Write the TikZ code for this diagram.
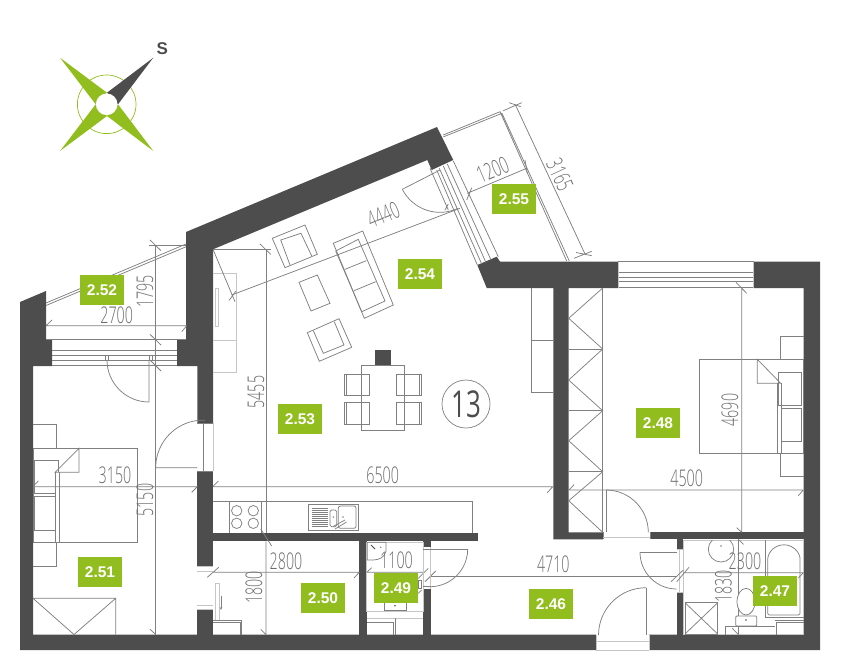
\documentclass[tikz,border=0pt]{standalone}
\usepackage{fontspec}
\usetikzlibrary{arrows.meta}
\setmainfont{Liberation Sans}
\newfontfamily\dimf[FakeStretch=0.62]{Open Sans Light}
\newfontfamily\numf[FakeStretch=0.7]{Open Sans}
\definecolor{wallc}{HTML}{4D4D4D}
\definecolor{lab}{HTML}{91BD1F}
\definecolor{lnc}{HTML}{808080}
\definecolor{lgt}{HTML}{C6C6C6}
\tikzset{
  wall/.style={fill=wallc,draw=none},
  ln/.style={draw=lnc,line width=0.75pt},
  lt/.style={draw=lgt,line width=0.75pt},
  roomtag/.style={fill=lab,text=white,minimum width=44pt,minimum height=30pt,inner sep=0pt,font=\fontsize{15.5}{15.5}\selectfont\bfseries},
  dimtxt/.style={text=lnc!85!black,inner sep=0pt,font=\fontsize{23}{23}\dimf},
}
\begin{document}
\begin{tikzpicture}[x=1pt,y=-1pt]
\useasboundingbox (0,0) rectangle (850,670);
% compass
\draw[lab,line width=0.7pt] (106.7,104.3) circle[radius=29.3];
\fill[lab] (60,57.7)--(107,92.7)--(95.7,104.3)--cycle;
\fill[lab] (60,151)--(107,116)--(95.7,104.3)--cycle;
\fill[lab] (153.3,151)--(107,116)--(118,104.3)--cycle;
\fill[wallc] (153.3,57.7)--(107,92.7)--(118,104.3)--cycle;
\fill[white] (106.7,104.3) circle[radius=10.8];
\node[text=wallc,inner sep=0pt,font=\fontsize{17}{17}\selectfont\bfseries] (south) at (162.3,48.3) {S};
% walls
\path[wall] (20,302)--(46,291)--(46,340)--(52,340)--(52,366)--(33,366)--(33,634.5)--(596,634.5)--(596,650)--(20,650)--cycle;
\path[wall] (649,634.5)--(803.5,634.5)--(803.5,288)--(753.5,288)--(753.5,261.5)--(820,261.5)--(820,650)--(649,650)--cycle;
\path[wall] (197.3,609.3) rectangle (213,635);
\path[wall] (197.3,471) rectangle (213,566.7);
\path[wall] (177,366)--(177,340)--(186,340)--(186,232)--(437,127)--(453.3,160)--(431.7,170)--(427.3,160)--(213,249.3)--(213,423)--(197.3,423)--(197.3,366)--cycle;
\path[wall] (213,532.7) rectangle (478,541.3);
\path[wall] (359,541) rectangle (366.7,635);
\path[wall] (423.3,541) rectangle (430.7,547);
\path[wall] (423.3,589.3) rectangle (430.7,635);
\path[wall] (477.3,265)--(496.7,256.7)--(500,261.5)--(618.3,261.5)--(618.3,288)--(568.7,288)--(568.7,532.3)--(603,532.3)--(603,539.3)--(553.3,539.3)--(553.3,288)--(486.7,288)--cycle;
\path[wall] (650,532.3) rectangle (803.5,539.3);
\path[wall] (676.7,539) rectangle (683.3,549);
\path[wall] (676.7,592.7) rectangle (683.3,635);
% balcony 2.52
\draw[ln] (46,303)--(186,244) (46,305.5)--(186,246.8);
% window left bedroom
\draw[ln] (46,339.5)--(186,339.5) (52,350)--(177,350) (52,355)--(177,355) (52,360)--(177,360) (52,365)--(177,365);
\draw[ln] (105,356)--(105,360) (149,356)--(149,360) (108,356)--(108,360) (152,356)--(152,360);
% dimension 2700 / 1795 / 5150
\draw[ln] (46,325.7)--(186,325.7) (46,325.7)--(52,320) (181.7,331.7)--(186.7,325.7);
\draw[ln] (149,245.3)--(186,245.3) (155.7,245.3)--(155.7,634.5);
\draw[ln] (150,240)--(161,250.7) (150,334.3)--(161,345) (150,360)--(161,371) (150,629.3)--(155.7,634.5);
% door bedroom left top
\draw[ln] (149,360)--(149,402) arc[start angle=90,end angle=180,radius=42];
% door to living
\draw[ln] (197.3,423)--(213,423) (197.3,471)--(213,471) (203.3,423)--(203.3,471);
\draw[lt] (213,423)--(213,471);
\draw[ln] (197.3,467.7)--(155.7,467.7) arc[start angle=180,end angle=272,radius=47.6];
% bedroom 2.51 furniture
\draw[ln] (33,424.7)--(56.7,424.7)--(56.7,448.3);
\draw[ln] (33,448.3) rectangle (137.7,542.3);
\draw[ln] (79,448.3)--(79,472.3)--(55,472.3)--cycle;
\draw[ln] (55,472.3)--(55,542.3) (59.3,472.3)--(59.3,542.3);
\draw[ln] (34.3,493.3)--(34.3,460.7)--(58.3,460.7)--(58.3,472);
\draw[ln] (34.3,493.3)--(55,493.3);
\draw[ln] (34.3,496.7) rectangle (55,530);
\draw[ln] (56.7,542.3)--(56.7,566)--(33,566);
\draw[ln] (33,598.3)--(115.7,598.3)--(115.7,634.5) (33,598.3)--(74,634.5)--(115.7,598.3);
% dims 3150, 6500, 4500
\draw[ln] (33,486.7)--(197.3,486.7) (33.3,486)--(38.3,481) (191.7,492.3)--(197.3,486.7);
\draw[ln] (213,486.7)--(553.3,486.7) (213.3,486)--(218.3,481) (547.3,492.7)--(552.7,486.7);
\draw[ln] (569,490)--(803.5,490) (569,490)--(574,484.7) (798.3,495.7)--(803.3,490);
% living left cabinet
\draw[lt] (213,273.3)--(236,273.3)--(236,372.3)--(213,372.3) (213,340)--(236,340);
\draw[lt] (215,288.3) rectangle (218.3,326.7);
% dim 5455
\draw[ln] (213,249.3)--(271,249.3) (266,249.3)--(266,532.7);
\draw[ln] (260,244)--(270.7,254.3) (260.7,529)--(271.7,546);
\draw[ln] (266,541.3)--(266,634.5) (260.7,629.3)--(266,634.5);
% dim 4440
\draw[ln] (231.7,295)--(460,208.3);
\draw[ln] (213.3,250)--(235,301.7) (229,300.5)--(236,291);
\draw[ln] (430,168.3)--(448.3,210) (445,210)--(448.3,204);
% balcony door
\draw[ln] (402.3,189.3)--(440,170);
\draw[ln] (402.3,189.3) arc[start angle=152.9,end angle=64.5,radius=42.3];
\draw[ln] (453.3,161)--(498.3,256.7) (447.3,164)--(491,260) (443.3,166)--(486,262.7) (439.3,168.3)--(481.7,264) (436.7,170)--(477.3,265);
% balcony 2.55
\draw[ln] (443.3,135)--(500,111.7)--(566.7,261) (443.3,136.9)--(502,113.3)--(569.3,261);
\draw[ln] (515,104)--(585,254) (503.3,110.7)--(521.7,102.7) (509.3,102.7)--(520.7,106.7) (574,258.3)--(591.7,251.3) (576,252.5)--(591.7,255.7);
\draw[ln] (467.3,193.3)--(526.7,168.3) (466.7,200)--(471.7,187.7) (525,160)--(527.3,173.3);
% furniture living
\draw[ln] (272.3,238.3)--(305,225)--(317.3,254.3)--(285,267.7)--cycle;
\draw[ln] (290,265)--(280.7,240)--(301,233.3)--(311.7,256);
\draw[ln] (333.3,243.3)--(362.7,231)--(393.3,305)--(364.3,318.3)--cycle;
\draw[ln] (361.7,311.7)--(335.7,251)--(358.3,239.3)--(385,301)--cycle;
\draw[ln] (345,269.3)--(366.3,260.7) (354,290.7)--(375.7,281.7);
\draw[ln] (299,282.3)--(317.3,275)--(330,303.3)--(311,311)--cycle;
\draw[ln] (307.3,332.7)--(339,318.7)--(351.7,347.3)--(319.3,361.3)--cycle;
\draw[ln] (313.3,330.7)--(323.3,353.3)--(344,345)--(334.3,321.7);
% dining
\draw[wall] (375,350) rectangle (391,365.7);
\draw[ln] (361.7,365.7) rectangle (404,430);
\foreach \yy/\zz in {374.3/395.7,402.7/424.3}{
  \draw[ln] (344.3,\yy) rectangle (369,\zz);
  \draw[ln] (396.7,\yy) rectangle (421.3,\zz);
  \draw[ln] (346.7,\yy)--(346.7,\zz) (419,\yy)--(419,\zz);
}
\node[circle,draw=lnc,line width=0.7pt,minimum size=48pt,inner sep=0pt,text=wallc,font=\fontsize{37}{37}\numf] (aptno) at (466,404) {13};
% right cabinets living
\draw[ln] (531.7,288)--(531.7,392.3)--(553.3,392.3) (531.7,340)--(553.3,340);
% kitchen
\draw[ln] (213,501.3)--(472.7,501.3)--(472.7,532.7);
\draw[ln] (229.3,501.3)--(229.3,532.7) (261,501.3)--(261,532.7);
\foreach \cx/\cy in {236.7/510.7,253.3/510.7,236.7/523.3,253.3/523.3}
  \draw[ln] (\cx,\cy) circle[radius=5.2];
\draw[ln] (308.3,504.3) rectangle (358.3,530.7);
\draw[ln,rounded corners=1.5pt] (330,510) rectangle (336.7,526.7);
\draw[ln,rounded corners=2pt] (338.3,506) rectangle (356,528.3);
\foreach \yy in {508,510,512,514,516,518,520,522,524,526}
  \draw[lnc,line width=0.6pt] (311.7,\yy)--(327.7,\yy);
\draw[ln] (333,526.5)--(345,520) (335,529)--(346.5,522);
\fill[lnc] (333.3,517) circle[radius=0.8] (343,517) circle[radius=0.8];
% wc 2.50 room
\draw[lt] (197.3,566.7)--(213,566.7) (197.3,571)--(213,571) (197.3,605.7)--(213,605.7) (197.3,609.3)--(213,609.3);
\draw[ln] (213,572.3)--(359,572.3) (207.3,577.3)--(218.7,567.3) (354,578)--(359.3,572.3);
\draw[lt] (215,583.3) rectangle (219,620);
\draw[lnc,line width=0.6pt,-{Stealth[length=3pt,width=2.5pt]}] (221,595.7)--(221,610);
\draw[ln] (213,620)--(241.7,620)--(241.7,634.5) (213,622.5)--(240,622.5)--(240,634.5);
% 2.49 room
\draw[lt] (366.7,542)--(423.3,542)--(423.3,611)--(366.7,611)--cycle;
\draw[ln] (367.3,542.3)--(386,542.3)--(386,551) .. controls (385,557) and (379,560) .. (373,560)--(367.3,560)--cycle;
\draw[wallc,line width=0.8pt] (371,545)--(375,549);
\fill[lnc] (380.7,547.3) circle[radius=0.8];
\draw[ln] (384,603.3)--(384,610.5)--(406,610.5)--(406,603.3);
\fill[wallc] (395,605.7) circle[radius=0.9];
\draw[lt] (366.7,618.3)--(423.3,618.3);
\draw[ln] (366.7,622.3)--(393.3,622.3)--(393.3,634.5) (395.7,618.3)--(395.7,634.5);
\draw[ln] (366.7,572.3)--(423.3,572.3) (367.3,571.7)--(371.7,567.7) (418.3,578.3)--(428.3,568.3) (425,581.7)--(435.7,571) (418.3,593.3)--(421.7,590);
\draw[ln] (418.3,580) rectangle (421.7,588);
% door 2.49
\draw[lt] (423.3,547)--(423.3,589.3) (430.7,547)--(430.7,589.3);
\draw[ln] (423.3,549)--(467.7,549);
\draw[ln] (467.7,549) arc[start angle=0,end angle=100,radius=37.7];
\draw[ln] (423.3,586.7)--(430.7,586.7);
% hall 4710
\draw[ln] (430.7,576)--(676.7,576);
\draw[ln] (646,587.7)--(646,634.5);
\draw[ln] (646,587.7) arc[start angle=270,end angle=180,radius=47.5];
\draw[lt] (596,634.5)--(596,650) (649,634.5)--(649,650);
\draw[lt] (596,641.7)--(649,641.7) (596,650)--(649,650);
% door to right bedroom
\draw[ln] (606,490)--(606,532.3) (603,532.3)--(603,539.3) (650,532.3)--(650,539.3);
\draw[lt] (603,537)--(650,537);
\draw[ln] (606,490) arc[start angle=-90,end angle=0,radius=42.3];
% wardrobe
\draw[ln] (602.7,288)--(602.7,532.3);
\draw[ln] (602.7,288)--(568.7,318.3)--(602.7,349)--(568.7,380)--(602.7,410.7)--(568.7,440.7)--(602.7,471.7)--(568.7,500.7)--(602.7,532.3);
\draw[ln] (568.7,349)--(602.7,349) (568.7,410.7)--(602.7,410.7) (568.7,471.7)--(602.7,471.7);
% window right
\draw[ln] (618.3,261.5)--(753.5,261.5) (618.3,272)--(753.5,272) (618.3,277)--(753.5,277) (618.3,281)--(753.5,281) (618.3,287)--(753.5,287);
\draw[lt] (618.3,261.5)--(618.3,288) (753.5,261.5)--(753.5,288);
% bedroom 2.48
\draw[ln] (741.7,288)--(741.7,532.3) (736,282.3)--(746.7,293.3) (736.7,527.7)--(741.7,532.3);
\draw[ln] (699,359.3) rectangle (803.5,453.3);
\draw[ln] (757.3,359.3)--(757.3,383.3)--(780.7,383.3)--cycle;
\draw[ln] (777.3,383.3)--(777.3,453.3) (781,383.3)--(781,453.3);
\draw[ln] (778.3,372) rectangle (801.7,405);
\draw[ln] (781.7,408.3) rectangle (801.7,441);
\draw[ln] (780,359.3)--(780,336)--(803.5,336);
\draw[ln] (780,453.3)--(780,476.7)--(803.5,476.7);
% bath frame
\draw[lt] (683.3,540) rectangle (803.5,634.5);
\draw[lt] (676.7,549)--(683.3,549) (676.7,592.7)--(683.3,592.7);
\draw[lt] (679.5,549)--(679.5,592.7);
\draw[ln] (640,552.3)--(676.7,552.3);
\draw[ln] (640,552.3) arc[start angle=180,end angle=90,radius=36.7];
\draw[ln] (683.3,572.7)--(803.5,572.7) (798.3,578)--(803.3,572.7);
\draw[ln] (671,581.7)--(683.3,570) (676.7,581.7)--(689,567.3);
\draw[ln] (738.4,540)--(738.4,634.5) (738.3,539.3)--(743.5,544.3) (732.3,628.3)--(738.3,634.5);
\begin{scope}
\clip (690,540) rectangle (750,570);
\draw[ln] (721,549.3) circle[radius=12.7];
\end{scope}
\fill[lnc] (721,546) circle[radius=0.9];
\draw[ln] (765.7,540)--(765.7,617.3)--(803.5,617.3);
\draw[ln,rounded corners=1.5pt] (767.7,615)--(767.7,561) arc[start angle=180,end angle=360,radius=16.2]--(800,615)--cycle;
\draw[ln] (685,602.7) rectangle (717.7,634);
\draw[ln] (685,602.7)--(717.7,634) (685,634)--(717.7,602.7);
\draw[ln,fill=white] (746,601.7) ellipse[x radius=9,y radius=13.3];
\draw[ln,fill=white,rounded corners=1pt] (735.7,616) rectangle (756.7,626);
\fill[wallc] (746,620) circle[radius=0.9];
\draw[ln] (725,634.5)--(725,626)--(775,626);
\draw[ln] (775,620)--(803.5,620) (776.7,622)--(776.7,634.5);
\draw[ln] (776.7,622)--(803.5,622);
% labels
\node[roomtag] (r52) at (102,290) {2.52};
\node[roomtag] (r55) at (514,199) {2.55};
\node[roomtag] (r54) at (420,274) {2.54};
\node[roomtag] (r53) at (300,419) {2.53};
\node[roomtag] (r51) at (100,572) {2.51};
\node[roomtag] (r50) at (323,598) {2.50};
\node[roomtag] (r49) at (396,588) {2.49};
\node[roomtag] (r46) at (551,604) {2.46};
\node[roomtag] (r47) at (775,591) {2.47};
\node[roomtag] (r48) at (658,423) {2.48};
% dimensions
\node[dimtxt] (d1) at (116.7,315) {2700};
\node[dimtxt,rotate=90] (d2) at (145,291.7) {1795};
\node[dimtxt,rotate=22.8] (d3) at (383.3,215) {4440};
\node[dimtxt,rotate=22.8] (d4) at (492.7,170) {1200};
\node[dimtxt,rotate=-65] (d5) at (560,175) {3165};
\node[dimtxt,rotate=90] (d6) at (256,392) {5455};
\node[dimtxt] (d7) at (115,475) {3150};
\node[dimtxt,rotate=90] (d8) at (145,500) {5150};
\node[dimtxt] (d9) at (382.7,475) {6500};
\node[dimtxt] (d10) at (686.7,478.3) {4500};
\node[dimtxt,rotate=90] (d11) at (730,410) {4690};
\node[dimtxt] (d12) at (286,561) {2800};
\node[dimtxt,rotate=90] (d13) at (254,587.7) {1800};
\node[dimtxt] (d14) at (396.5,560.5) {1100};
\node[dimtxt] (d15) at (553.3,564.3) {4710};
\node[dimtxt] (d16) at (745,561.7) {2300};
\node[dimtxt,rotate=90] (d17) at (723.3,586.7) {1830};
\end{tikzpicture}
\end{document}
